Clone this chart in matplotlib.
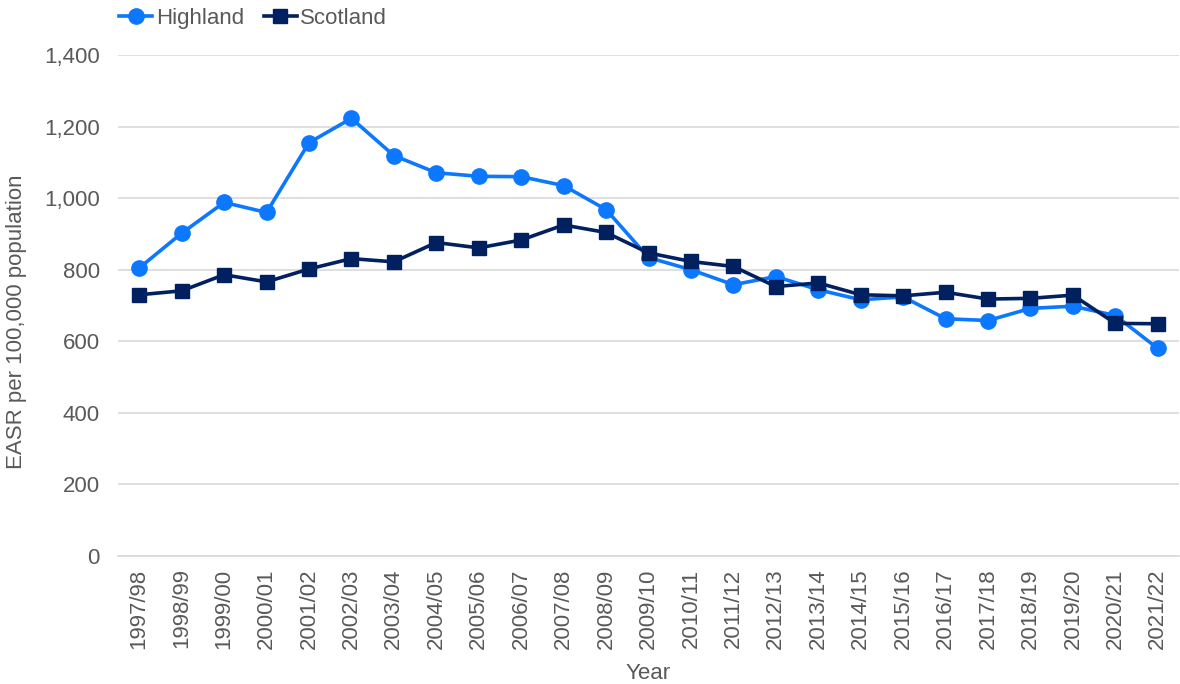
import matplotlib
matplotlib.use("Agg")
import matplotlib.pyplot as plt
from matplotlib.ticker import FuncFormatter

years = ["1997/98", "1998/99", "1999/00", "2000/01", "2001/02", "2002/03", "2003/04",
         "2004/05", "2005/06", "2006/07", "2007/08", "2008/09", "2009/10", "2010/11",
         "2011/12", "2012/13", "2013/14", "2014/15", "2015/16", "2016/17", "2017/18",
         "2018/19", "2019/20", "2020/21", "2021/22"]
highland = [805, 902, 988, 960, 1155, 1223, 1119, 1071, 1061, 1060, 1035, 968, 834,
            800, 758, 781, 744, 716, 724, 663, 658, 692, 698, 672, 580]
scotland = [730, 741, 786, 766, 802, 831, 822, 876, 861, 883, 925, 904, 847,
            823, 809, 753, 763, 730, 727, 737, 718, 720, 729, 650, 649]

plt.rcParams['font.family'] = ['Liberation Sans', 'DejaVu Sans']
FS = 16
GREY = '#595959'

fig = plt.figure(figsize=(11.8, 6.84), dpi=100)
ax = fig.add_axes([118/1180, 1 - 556/684, (1179-118)/1180, (556-55)/684])

x = list(range(len(years)))
ax.plot(x, highland, color='#0B78FF', lw=2.6, marker='o', ms=11, label='Highland', zorder=3)
ax.plot(x, scotland, color='#002060', lw=2.6, marker='s', ms=9.5, label='Scotland', zorder=4)

ax.set_xlim(-0.5, len(years) - 0.5)
ax.set_ylim(0, 1400)
ax.set_yticks(range(0, 1401, 200))
ax.yaxis.set_major_formatter(FuncFormatter(lambda v, p: f"{int(v):,}"))
ax.set_xticks(x)
ax.set_xticklabels(years, rotation=90)
ax.grid(axis='y', color='#D9D9D9', lw=1.2)
ax.set_axisbelow(True)
for s in ['top', 'right', 'left']:
    ax.spines[s].set_visible(False)
ax.spines['bottom'].set_color('#D9D9D9')
ax.spines['bottom'].set_linewidth(1.2)
ax.tick_params(axis='both', length=0, labelsize=FS, labelcolor=GREY)
ax.tick_params(axis='y', pad=13)
ax.tick_params(axis='x', pad=9)
ax.set_xlabel('Year', fontsize=FS, color=GREY, labelpad=10)
ax.set_ylabel('EASR per 100,000 population', fontsize=FS, color=GREY)
ax.yaxis.set_label_coords(-0.0855, 0.467)

leg = ax.legend(loc='lower left', bbox_to_anchor=(119/1180, 1 - 29/684), bbox_transform=fig.transFigure,
                ncol=2, frameon=False, fontsize=FS, handlelength=1.5, handletextpad=0.15,
                columnspacing=0.9, borderaxespad=0, borderpad=0)
for t in leg.get_texts():
    t.set_color(GREY)

fig.savefig('out.png', dpi=100)
